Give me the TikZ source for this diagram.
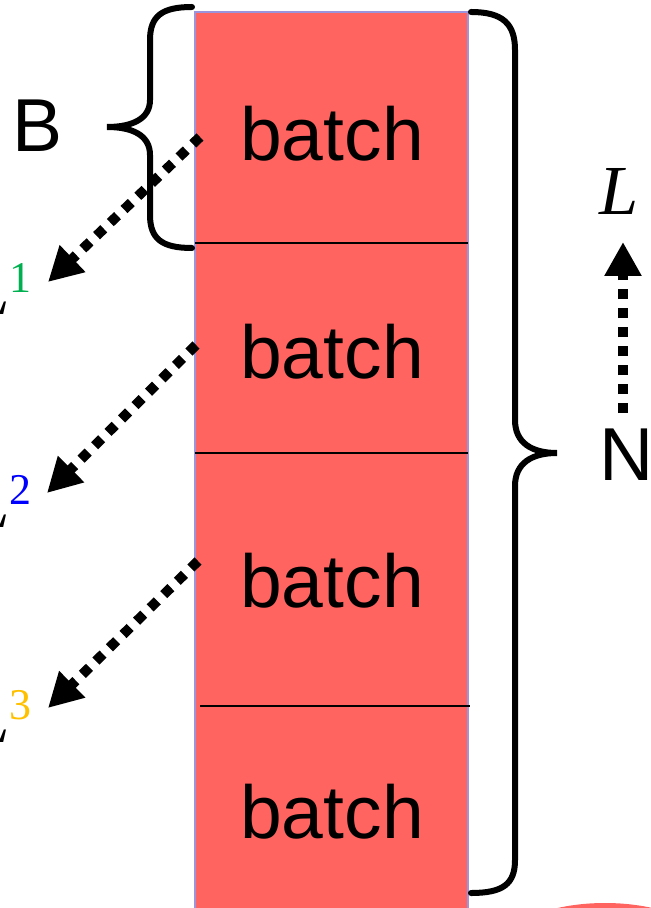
\documentclass[tikz,border=0pt]{standalone}
\usepackage{fontspec}
\setmainfont{Liberation Sans}
\newfontfamily\lossfont{Liberation Serif}
\usetikzlibrary{arrows.meta}

\definecolor{BatchRed}{HTML}{FF6461}
\definecolor{BatchEdge}{HTML}{9C94DC}
\definecolor{LossOne}{HTML}{00B050}
\definecolor{LossTwo}{HTML}{0000FF}
\definecolor{LossThree}{HTML}{FFC000}

% L avec un exposant colore
\newcommand{\lossof}[2]{{\itshape L}\raisebox{13pt}{\fontsize{25}{25}\selectfont\color{#1}#2}}

\tikzset{
  batchtext/.style={inner sep=0, anchor=base, font=\fontsize{42.7}{44}\selectfont},
  losslabel/.style={inner sep=0, anchor=base east, font=\lossfont\fontsize{38}{40}\selectfont},
  brace/.style={line width=6*0.02cm, line cap=round},
  dotarrow/.style={line width=0.2cm, dash pattern=on 0.2cm off 0.18cm,
    -{Triangle[length=0.68cm, width=0.7cm]}},
}

\begin{document}
\begin{tikzpicture}[x=0.02cm, y=-0.02cm]

 \useasboundingbox (0,0) rectangle (651,908);
 \clip (0,0) rectangle (651,908);

 %%%%%%%%%% Points pour travailler %%%%%%%%%%
 \coordinate (s1) at (200,137);
 \coordinate (s2) at (196,345);
 \coordinate (s3) at (198,561);
 \coordinate (t1) at (48,282);
 \coordinate (t2) at (47,493);
 \coordinate (t3) at (48,708);
 \coordinate (up0) at (623,413);
 \coordinate (up1) at (623,242);

 %%%%%%%%%% Colonne des batchs %%%%%%%%%%
 \fill [color=BatchRed] (605,945) ellipse [x radius=100, y radius=42];
 \filldraw [fill=BatchRed, draw=BatchEdge, line width=1.5*0.02cm] (195,12) rectangle (468,915);
 \draw [line width=1.5*0.02cm] (195,243) -- (468,243);
 \draw [line width=1.5*0.02cm] (195,453) -- (468,453);
 \draw [line width=1.5*0.02cm] (200,706) -- (470,706);

 \node[batchtext] (b1) at (332,161) {batch};
 \node[batchtext] (b2) at (332,378) {batch};
 \node[batchtext] (b3) at (332,607) {batch};
 \node[batchtext] (b4) at (332,838) {batch};

 % Accolade B
 \draw [brace] (192,7) .. controls (162,7) and (150,16) .. (150,40) -- (150,100)
   .. controls (150,119) and (132,127) .. (107,127)
   .. controls (132,127) and (150,135) .. (150,155) -- (150,215)
   .. controls (150,239) and (162,248) .. (192,248);
 \node[batchtext] (bsize) at (37.5,152) {B};

 % Accolade N
 \draw [brace] (471,12) .. controls (503,12) and (515,24) .. (515,50) -- (515,420)
   .. controls (515,443) and (532,453) .. (557,453)
   .. controls (532,453) and (515,463) .. (515,486) -- (515,860)
   .. controls (515,884) and (503,893) .. (471,893);
 \node[batchtext] (nsize) at (627,480) {N};

 % Pertes
 \node[losslabel] (l1) at (32,315) {\lossof{LossOne}{1}};
 \node[losslabel] (l2) at (32,527) {\lossof{LossTwo}{2}};
 \node[losslabel] (l3) at (32,742) {\lossof{LossThree}{3}};
 \node[inner sep=0, anchor=base, font=\lossfont\itshape\fontsize{40}{42}\selectfont] (ltot) at (619,215) {L};

 \draw [dotarrow] (s1) -- (t1);
 \draw [dotarrow] (s2) -- (t2);
 \draw [dotarrow] (s3) -- (t3);
 \draw [dotarrow] (up0) -- (up1);

\end{tikzpicture}
\end{document}
